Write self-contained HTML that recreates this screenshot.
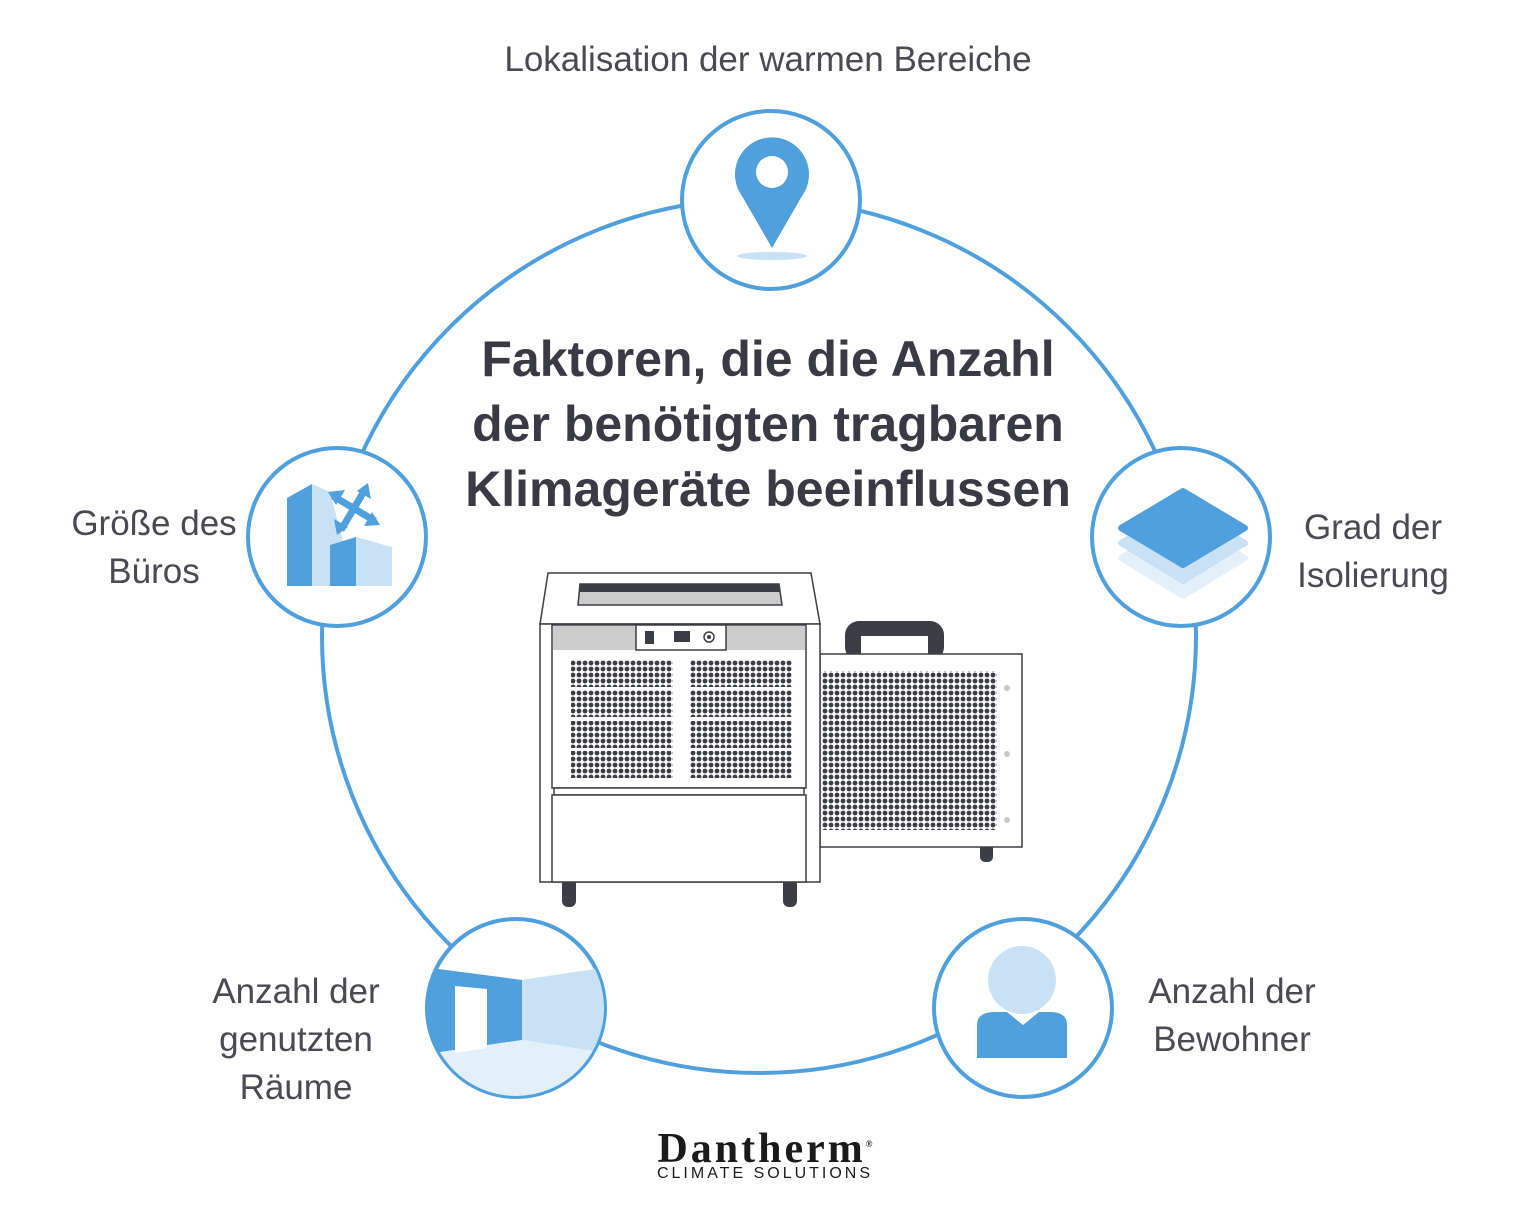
<!DOCTYPE html>
<html><head><meta charset="utf-8"><style>
html,body{margin:0;padding:0;background:#fff;}
body{width:1537px;height:1211px;overflow:hidden;position:relative;}
.lbl{position:absolute;font-family:"Liberation Sans",sans-serif;font-size:35px;color:#4a4a52;text-align:center;line-height:48px;font-weight:normal;}
.title{position:absolute;left:318px;width:900px;top:327px;text-align:center;font-family:"Liberation Sans",sans-serif;font-weight:bold;font-size:50px;line-height:65px;color:#3a3a44;}
</style></head><body>
<svg width="1537" height="1211" style="position:absolute;left:0;top:0">
<defs>
<pattern id="dots" width="6" height="6" patternUnits="userSpaceOnUse"><circle cx="3" cy="3" r="2.4" fill="#3c3e45"/></pattern>
<clipPath id="cBL"><circle cx="516" cy="1008" r="88"/></clipPath>
</defs>
<circle cx="759" cy="636" r="437" fill="none" stroke="#4fa0dc" stroke-width="4"/>
<g fill="#fff" stroke="#4fa0dc" stroke-width="4">
<circle cx="771" cy="200" r="89"/>
<circle cx="337" cy="537" r="89"/>
<circle cx="1181" cy="537" r="89"/>
<circle cx="516" cy="1008" r="89"/>
<circle cx="1023" cy="1008" r="89"/>
</g>
<ellipse cx="772" cy="256" rx="35" ry="4" fill="#c8e1f5"/>
<path d="M772,248 L742,196 A37,37 0 1 1 802,196 Z" fill="#4fa0dc"/>
<circle cx="772" cy="172" r="16" fill="#fff"/>
<polygon points="287,498 312,484 312,586 287,586" fill="#4fa0dc"/>
<polygon points="312,484 330,492 348,560 348,586 312,586" fill="#c8e1f5"/>
<polygon points="330,545 356,537 356,586 330,586" fill="#4fa0dc"/>
<polygon points="356,537 392,547 392,586 356,586" fill="#c8e1f5"/>
<g stroke="#4fa0dc" stroke-width="7" fill="none"><line x1="333" y1="496" x2="375" y2="521"/><line x1="341" y1="530" x2="366" y2="488"/></g>
<g fill="#4fa0dc"><polygon points="328,492 345,490 336,505"/><polygon points="380,525 364,526 372,512"/><polygon points="368,483 371,499 357,491"/><polygon points="337,535 334,519 348,527"/></g>
<path d="M1183,520 L1245,558 L1183,596 L1121,558 Z" fill="#e3f0fa" stroke="#e3f0fa" stroke-width="6" stroke-linejoin="round"/>
<path d="M1183,505 L1245,543 L1183,581 L1121,543 Z" fill="#c8e1f5" stroke="#c8e1f5" stroke-width="6" stroke-linejoin="round"/>
<path d="M1183,491 L1245,528 L1183,565 L1121,528 Z" fill="#4fa0dc" stroke="#4fa0dc" stroke-width="6" stroke-linejoin="round"/>
<g clip-path="url(#cBL)">
<polygon points="400,964 522,980 522,1040 400,1058" fill="#4fa0dc"/>
<polygon points="522,980 620,965 620,1055 522,1040" fill="#c8e1f5"/>
<polygon points="400,1058 522,1040 620,1055 620,1110 400,1110" fill="#e3f0fa"/>
<polygon points="455,986 487,989 487,1048 455,1053" fill="#fff"/>
</g>
<circle cx="1022" cy="980" r="34" fill="#c8e1f5"/>
<path d="M977,1058 L977,1025 Q977,1012 995,1012 L1007,1012 L1023,1025 L1039,1012 L1050,1012 Q1067,1012 1067,1025 L1067,1058 Z" fill="#4fa0dc"/>
<g stroke="#3c3e45" stroke-width="1.5" fill="#fff">
<rect x="845" y="621" width="99" height="40" rx="14" fill="#3c3e45" stroke="none"/>
<rect x="861" y="636" width="67" height="30" fill="#fff" stroke="none"/>
<rect x="980" y="840" width="13" height="22" rx="5" fill="#3c3e45" stroke="none"/>
<rect x="820" y="654" width="202" height="193"/>
<rect x="822" y="671" width="175" height="159" fill="url(#dots)" stroke="none"/>
<g fill="#c8c8ca" stroke="none"><circle cx="1007" cy="688" r="3"/><circle cx="1007" cy="754" r="3"/><circle cx="1007" cy="820" r="3"/></g>
<rect x="562" y="872" width="14" height="35" rx="6" fill="#3c3e45" stroke="none"/>
<rect x="783" y="872" width="14" height="35" rx="6" fill="#3c3e45" stroke="none"/>
<polygon points="548,573 811,573 820,624 540,624"/>
<polygon points="580,584 779,584 782,605 578,605" fill="#ccc"/>
<polygon points="580,584 779,584 780,592 580,592" fill="#3c3e45" stroke="none"/>
<rect x="540" y="624" width="280" height="258"/>
<rect x="552" y="625" width="254" height="163"/>
<rect x="553" y="626" width="252" height="24" fill="#ccc" stroke="none"/>
<rect x="636" y="625" width="90" height="25"/>
<rect x="645" y="631" width="9" height="13" fill="#3c3e45" stroke="none"/>
<rect x="674" y="631" width="16" height="11" fill="#3c3e45" stroke="none"/>
<circle cx="709" cy="637" r="5"/><circle cx="709" cy="637" r="2" fill="#3c3e45" stroke="none"/>
<rect x="554" y="788" width="250" height="7"/>
<rect x="552" y="795" width="254" height="87"/>
</g>
<g fill="url(#dots)">
<rect x="571" y="660" width="102" height="27"/><rect x="571" y="690" width="102" height="27"/><rect x="571" y="721" width="102" height="27"/><rect x="571" y="751" width="102" height="27"/>
<rect x="690" y="660" width="102" height="27"/><rect x="690" y="690" width="102" height="27"/><rect x="690" y="721" width="102" height="27"/><rect x="690" y="751" width="102" height="27"/>
</g>
</svg>
<div class="title">Faktoren, die die Anzahl<br>der benötigten tragbaren<br>Klimageräte beeinflussen</div>
<div class="lbl" style="left:418px;width:700px;top:36px;">Lokalisation der warmen Bereiche</div>
<div class="lbl" style="left:54px;width:200px;top:500px;">Größe des<br>Büros</div>
<div class="lbl" style="left:1273px;width:200px;top:504px;">Grad der<br>Isolierung</div>
<div class="lbl" style="left:186px;width:220px;top:968px;">Anzahl der<br>genutzten<br>Räume</div>
<div class="lbl" style="left:1122px;width:220px;top:968px;">Anzahl der<br>Bewohner</div>
<div style="position:absolute;left:615px;width:300px;top:1124px;text-align:center;font-family:'Liberation Serif',serif;font-weight:bold;font-size:42px;line-height:40px;color:#1a1a1a;letter-spacing:3px;">Dantherm<sup style="font-size:9px;letter-spacing:0">®</sup></div>
<div style="position:absolute;left:615px;width:300px;top:1165px;text-align:center;font-family:'Liberation Sans',sans-serif;font-size:16px;line-height:18px;color:#1a1a1a;letter-spacing:3px;">CLIMATE SOLUTIONS</div>
</body></html>
